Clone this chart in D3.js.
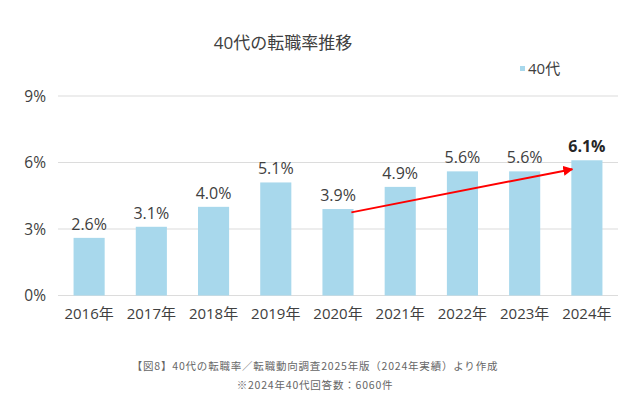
<!DOCTYPE html>
<html lang="ja">
<head>
<meta charset="UTF-8">
<title>40代の転職率推移</title>
<style>
  body { margin: 0; background: #fff; }
  svg { display: block; font-family: "Open Sans", "Noto Sans CJK JP", sans-serif; }
</style>
</head>
<body>
<svg id="chart" width="640" height="404"></svg>
<script src="https://d3js.org/d3.v7.min.js"></script>
<script>
// data
const years = ["2016年", "2017年", "2018年", "2019年", "2020年", "2021年", "2022年", "2023年", "2024年"];
const rates = [2.6, 3.1, 4.0, 5.1, 3.9, 4.9, 5.6, 5.6, 6.1];
const yTicks = [0, 3, 6, 9];
const trendFrom = { year: "2020年", value: 3.75 };
const trendTo = { year: "2024年", value: 5.7 };
const footnotes = [
  "【図8】40代の転職率／転職動向調査2025年版（2024年実績）より作成",
  "※2024年40代回答数：6060件"
];

const svg = d3.select("#chart");
const barColor = "#a8d8ec";

const x = d3.scaleBand().domain(years).range([58, 618]).paddingInner(0.5).paddingOuter(0.25);
const y = d3.scaleLinear().domain([0, 9]).range([295.5, 96]);

// title
svg.append("text")
  .attr("x", 283).attr("y", 49)
  .attr("text-anchor", "middle")
  .attr("font-size", 17).attr("fill", "#404040")
  .text("40代の転職率推移");

// legend
svg.append("rect").attr("x", 520).attr("y", 66).attr("width", 5).attr("height", 5).attr("fill", barColor);
svg.append("text").attr("x", 528).attr("y", 74)
  .attr("font-size", 15).attr("fill", "#404040").text("40代");

// gridlines + y labels
const grid = svg.append("g");
grid.selectAll("line").data(yTicks).join("line")
  .attr("x1", 58).attr("x2", 618)
  .attr("y1", d => y(d)).attr("y2", d => y(d))
  .attr("stroke", "#dcdcdc").attr("stroke-width", 1.2);
grid.selectAll("text").data(yTicks).join("text")
  .attr("x", 46).attr("y", d => y(d))
  .attr("dy", "0.36em")
  .attr("text-anchor", "end")
  .attr("font-size", 15.5).attr("fill", "#404040")
  .text(d => d + "%");

// bars
svg.append("g").selectAll("rect").data(rates).join("rect")
  .attr("x", (d, i) => x(years[i]))
  .attr("width", x.bandwidth())
  .attr("y", d => y(d))
  .attr("height", d => y(0) - y(d))
  .attr("fill", barColor);

// value labels
svg.append("g").selectAll("text").data(rates).join("text")
  .attr("x", (d, i) => x(years[i]) + x.bandwidth() / 2)
  .attr("y", d => y(d) - 8)
  .attr("text-anchor", "middle")
  .attr("font-size", 16)
  .attr("font-weight", (d, i) => i === years.length - 1 ? "bold" : "normal")
  .attr("fill", (d, i) => i === years.length - 1 ? "#262626" : "#404040")
  .text(d => d.toFixed(1) + "%");

// x labels
svg.append("g").selectAll("text").data(years).join("text")
  .attr("x", d => x(d) + x.bandwidth() / 2)
  .attr("y", 314)
  .attr("dy", "0.36em")
  .attr("text-anchor", "middle")
  .attr("font-size", 15).attr("fill", "#404040")
  .text(d => d);

// red trend arrow
svg.append("defs").append("marker")
  .attr("id", "head").attr("viewBox", "0 0 10 10")
  .attr("refX", 9).attr("refY", 5)
  .attr("markerWidth", 5).attr("markerHeight", 5)
  .attr("orient", "auto")
  .append("path").attr("d", "M0,0L10,5L0,10z").attr("fill", "#ff0000");
svg.append("line")
  .attr("x1", x(trendFrom.year) + x.bandwidth() * 0.93)
  .attr("y1", y(trendFrom.value))
  .attr("x2", x(trendTo.year) + 1)
  .attr("y2", y(trendTo.value))
  .attr("stroke", "#ff0000").attr("stroke-width", 2)
  .attr("marker-end", "url(#head)");

// footnotes
svg.append("g").selectAll("text").data(footnotes).join("text")
  .attr("x", 315)
  .attr("y", (d, i) => 370 + i * 18.5)
  .attr("text-anchor", "middle")
  .attr("font-family", "\"Noto Sans CJK JP\", sans-serif")
  .attr("font-size", 10.5)
  .attr("letter-spacing", 0.8)
  .attr("fill", "#666")
  .text(d => d);
</script>
</body>
</html>
